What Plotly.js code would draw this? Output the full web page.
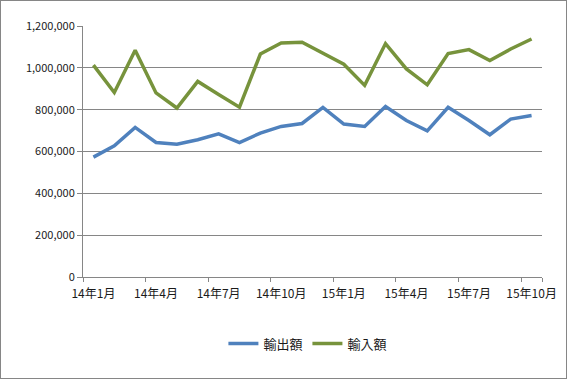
<!DOCTYPE html>
<html>
<head>
<meta charset="utf-8">
<script src="https://cdn.plot.ly/plotly-3.0.1.min.js"></script>
<style>
  body { margin: 0; padding: 0; background: #fff; }
  #wrap { position: relative; width: 568px; height: 379px; }
  #chart { position: absolute; left: 0; top: 0; width: 568px; height: 379px; }
  #frame { position: absolute; left: 0; top: 0; width: 565px; height: 377px; border: 1px solid #868686; pointer-events: none; }
</style>
</head>
<body>
<div id="wrap"><div id="chart"></div><div id="frame"></div></div>
<script>
// Months 14年1月 .. 15年10月
const months = ["14年1月","14年2月","14年3月","14年4月","14年5月","14年6月","14年7月","14年8月","14年9月","14年10月","14年11月","14年12月",
                "15年1月","15年2月","15年3月","15年4月","15年5月","15年6月","15年7月","15年8月","15年9月","15年10月"];
const exportsVal = [573000, 627000, 715000, 643000, 635000, 656000, 684000, 643000, 688000, 720000, 734000, 811000,
                    731000, 720000, 815000, 748000, 699000, 811000, 748000, 680000, 755000, 772000];
const importsVal = [1013000, 882000, 1084000, 880000, 808000, 935000, 873000, 812000, 1066000, 1119000, 1122000, 1071000,
                    1017000, 916000, 1116000, 995000, 919000, 1068000, 1087000, 1035000, 1090000, 1138000];
const seriesNames = ["輸出額", "輸入額"];
const yTicks = [0, 200000, 400000, 600000, 800000, 1000000, 1200000];

const idx = months.map((m, i) => i);
const labelIdx = idx.filter(i => i % 3 === 0);
const labelText = labelIdx.map(i => months[i]);
const boundaryIdx = labelIdx.map(i => i - 0.5);

const fam = "'Noto Sans CJK JP', 'DejaVu Sans', sans-serif";
const font = { family: fam, size: 11, color: "#1a1a1a" };

const traces = [
  { x: idx, y: exportsVal, name: seriesNames[0], type: "scatter", mode: "lines",
    line: { color: "#4F81BD", width: 3.5 }, xaxis: "x", yaxis: "y" },
  { x: idx, y: importsVal, name: seriesNames[1], type: "scatter", mode: "lines",
    line: { color: "#77933C", width: 3.5 }, xaxis: "x", yaxis: "y" }
];

const layout = {
  width: 568, height: 379,
  margin: { l: 83, r: 26, t: 26, b: 102 },
  paper_bgcolor: "#fff", plot_bgcolor: "#fff",
  font: font,
  showlegend: true,
  legend: { orientation: "h", x: 0.49, xanchor: "center", y: -0.265, yanchor: "middle",
            font: { family: fam, size: 13, color: "#1a1a1a" }, itemwidth: 30, tracegroupgap: 0 },
  xaxis: {
    range: [-0.5, months.length - 0.5], tickmode: "array", tickvals: labelIdx, ticktext: labelText,
    ticks: "outside", ticklen: 6, tickcolor: "rgba(0,0,0,0)",
    showgrid: false, zeroline: false, showline: true, linecolor: "#868686", linewidth: 1,
    tickfont: { family: fam, size: 12, color: "#1a1a1a" }, fixedrange: true
  },
  xaxis2: {
    overlaying: "x", anchor: "y", side: "bottom",
    range: [-0.5, months.length - 0.5], tickmode: "array", tickvals: boundaryIdx.concat([months.length - 0.5]),
    ticks: "outside", ticklen: 4, tickcolor: "#868686", showticklabels: false,
    showgrid: false, zeroline: false, showline: false
  },
  yaxis: {
    range: [0, 1200000], tickmode: "array", tickvals: yTicks, tickformat: ",d",
    ticks: "outside", ticklen: 5, tickcolor: "#868686",
    showgrid: true, gridcolor: "#868686", gridwidth: 1, zeroline: false,
    showline: true, linecolor: "#868686", linewidth: 1, tickfont: font
  }
};

// invisible trace so the boundary-tick axis is drawn
traces.push({ x: [0], y: [0], xaxis: "x2", yaxis: "y", mode: "markers", marker: { opacity: 0 }, showlegend: false, hoverinfo: "skip" });

Plotly.newPlot("chart", traces, layout, { displayModeBar: false, staticPlot: true });
</script>
</body>
</html>
